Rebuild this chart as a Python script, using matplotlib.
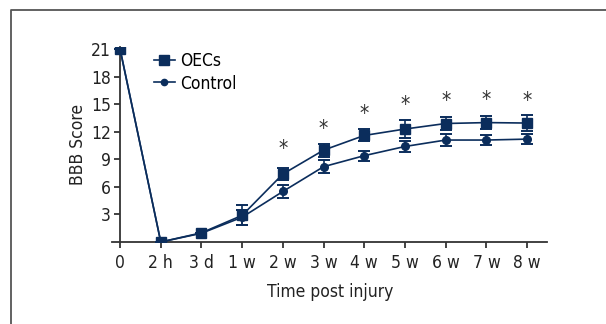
import matplotlib
matplotlib.use("Agg")
import matplotlib.pyplot as plt
from matplotlib.lines import Line2D

plt.rcParams['font.family'] = ['DejaVu Sans']
plt.rcParams['font.stretch'] = 'condensed'

# time points and BBB scores
times = ['0', '2 h', '3 d', '1 w', '2 w', '3 w', '4 w', '5 w', '6 w', '7 w', '8 w']
oecs = [21, 0, 1.0, 2.9, 7.4, 10.0, 11.6, 12.3, 12.9, 13.0, 12.95]
oecs_err = [0, 0, 0, 1.1, 0.7, 0.7, 0.65, 1.0, 0.75, 0.75, 0.85]
control = [21, 0, 0.95, 2.7, 5.5, 8.2, 9.4, 10.4, 11.1, 11.1, 11.2]
control_err = [0, 0, 0, 0.8, 0.75, 0.7, 0.55, 0.55, 0.7, 0.55, 0.55]
star_pos = [4, 5, 6, 7, 8, 9, 10]
star_y = [10.1, 12.3, 13.9, 14.9, 15.3, 15.5, 15.4]

navy = '#0b2d5c'

fig = plt.figure(figsize=(6.06, 3.24), dpi=100)
ax = fig.add_axes([0.1847, 0.2531, 0.7187, 0.601])

x = list(range(len(times)))
ax.errorbar(x, control, yerr=control_err, color=navy, marker='o', ms=5.5,
            lw=1.2, capsize=4.3, capthick=1.4, elinewidth=1.2, zorder=3)
ax.errorbar(x, oecs, yerr=oecs_err, color=navy, marker='s', ms=7.5,
            lw=1.2, capsize=4.3, capthick=1.4, elinewidth=1.2, zorder=4)

for p, sy in zip(star_pos, star_y):
    ax.text(p, sy, '*', ha='center', va='center', fontsize=15, color='#333333')

ax.set_xlim(-0.2, 10.5)
ax.set_ylim(0, 21.2)
ax.set_xticks(x)
ax.set_xticklabels(times)
ax.set_yticks([3, 6, 9, 12, 15, 18, 21])
ax.spines['top'].set_visible(False)
ax.spines['right'].set_visible(False)
ax.spines['left'].set_position(('data', 0))
for s in ['left', 'bottom']:
    ax.spines[s].set_color('#333333')
    ax.spines[s].set_linewidth(1.3)
ax.tick_params(axis='both', labelsize=12.5, colors='#222222', width=1.2, length=4.5)
ax.tick_params(axis='x', pad=4)
ax.tick_params(axis='y', pad=2)

ax.set_xlabel('Time post injury', fontsize=12.5, color='#222222', labelpad=8)
ax.set_ylabel('BBB Score', fontsize=12.5, color='#222222', labelpad=3)

handles = [Line2D([], [], color=navy, marker='s', ms=6.5, lw=1.2),
           Line2D([], [], color=navy, marker='o', ms=4.5, lw=1.2)]
ax.legend(handles, ['OECs', 'Control'], loc='upper left', bbox_to_anchor=(0.06, 1.055),
          frameon=False, fontsize=12.5, handlelength=1.2, handletextpad=0.35,
          labelspacing=0.25)

# outer frame
fig.add_artist(Line2D([11 / 606, 11 / 606, 1.0], [0, 1 - 10 / 324, 1 - 10 / 324],
                      transform=fig.transFigure, color='#555555', lw=1.3))

fig.savefig('out.png', dpi=100)
